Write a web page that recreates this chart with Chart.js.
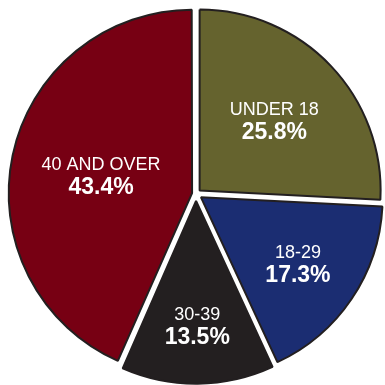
<!DOCTYPE html>
<html lang="en">
<head>
<meta charset="UTF-8">
<title>Age pie</title>
<script src="https://cdn.jsdelivr.net/npm/chart.js@4.4.0/dist/chart.umd.min.js"></script>
<style>
  html, body { margin: 0; padding: 0; background: #fff; }
</style>
</head>
<body>
<canvas id="myChart" width="385" height="385"></canvas>
<script>
var categories = ['UNDER 18', '18-29', '30-39', '40 AND OVER'];
var shares = [25.8, 17.3, 13.5, 43.4];
var shareLabels = ['25.8%', '17.3%', '13.5%', '43.4%'];
var sliceColors = ['#65632e', '#1b2d72', '#231f20', '#770013'];

// how far each label sits from the pie centre (px)
var labelDist = [108, 123, 131, 97];

var sliceLabels = {
    id: 'sliceLabels',
    afterDatasetsDraw: function (chart) {
        var ctx = chart.ctx;
        var arcs = chart.getDatasetMeta(0).data;
        ctx.save();
        ctx.fillStyle = '#ffffff';
        ctx.textAlign = 'center';
        ctx.textBaseline = 'alphabetic';
        arcs.forEach(function (arc, i) {
            var mid = (arc.startAngle + arc.endAngle) / 2;
            var x = arc.x + Math.cos(mid) * labelDist[i];
            var y = arc.y + Math.sin(mid) * labelDist[i];
            ctx.font = '18px "Liberation Sans", Arial, sans-serif';
            ctx.fillText(categories[i], x, y - 4.5);
            ctx.font = 'bold 23px "Liberation Sans", Arial, sans-serif';
            ctx.fillText(shareLabels[i], x, y + 19.5);
        });
        ctx.restore();
    }
};

var pieChart = new Chart(document.getElementById('myChart').getContext('2d'), {
    type: 'pie',
    data: {
        labels: categories,
        datasets: [{
            data: shares,
            backgroundColor: sliceColors,
            borderColor: '#231f20',
            borderWidth: 2,
            offset: [20, 24, 28, 16],
            hoverOffset: 0
        }]
    },
    options: {
        responsive: false,
        animation: false,
        events: [],
        radius: 181,
        layout: { padding: { left: 7, top: 3 } },
        plugins: {
            legend: { display: false },
            tooltip: { enabled: false }
        }
    },
    plugins: [sliceLabels]
});
</script>
</body>
</html>
